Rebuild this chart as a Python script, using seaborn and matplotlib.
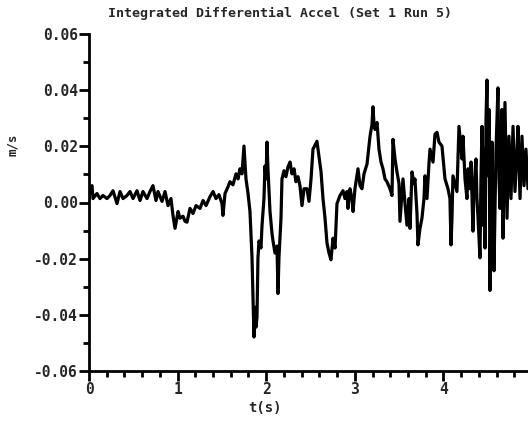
import numpy as np
import pandas as pd
import matplotlib
matplotlib.use("Agg")
import matplotlib.pyplot as plt
import seaborn as sns
from matplotlib.ticker import MultipleLocator

# time (s)
t = [0.000, 0.011, 0.034, 0.045, 0.090, 0.124, 0.158, 0.203, 0.237, 0.271,
     0.316, 0.350, 0.384, 0.429, 0.463, 0.497, 0.542, 0.576, 0.609, 0.655,
     0.688, 0.722, 0.756, 0.779, 0.824, 0.858, 0.892, 0.925, 0.948, 0.971,
     1.005, 1.027, 1.061, 1.084, 1.106, 1.140, 1.174, 1.208, 1.253, 1.287,
     1.321, 1.366, 1.400, 1.433, 1.467, 1.501, 1.512, 1.535, 1.569, 1.591,
     1.625, 1.659, 1.682, 1.704, 1.727, 1.749, 1.772, 1.795, 1.817, 1.840,
     1.851, 1.862, 1.874, 1.885, 1.896, 1.907, 1.919, 1.941, 1.953, 1.975,
     1.986, 1.998, 2.009, 2.020, 2.043, 2.065, 2.077, 2.099, 2.122, 2.133,
     2.144, 2.167, 2.178, 2.201, 2.223, 2.246, 2.269, 2.291, 2.314, 2.336,
     2.359, 2.381, 2.404, 2.427, 2.460, 2.483, 2.506, 2.528, 2.551, 2.573,
     2.596, 2.619, 2.641, 2.664, 2.686, 2.709, 2.731, 2.754, 2.777, 2.799,
     2.833, 2.867, 2.889, 2.912, 2.923, 2.946, 2.968, 2.980, 3.002, 3.036,
     3.059, 3.081, 3.104, 3.138, 3.172, 3.194, 3.205, 3.217, 3.228, 3.251,
     3.273, 3.296, 3.318, 3.341, 3.363, 3.397, 3.420, 3.431, 3.454, 3.476,
     3.499, 3.510, 3.533, 3.544, 3.567, 3.589, 3.612, 3.623, 3.646, 3.668,
     3.679, 3.702, 3.713, 3.736, 3.758, 3.781, 3.792, 3.815, 3.837, 3.849,
     3.883, 3.905, 3.928, 3.950, 3.984, 4.018, 4.052, 4.074, 4.086, 4.097,
     4.108, 4.131, 4.153, 4.176, 4.199, 4.210, 4.221, 4.244, 4.266, 4.278,
     4.300, 4.312, 4.334, 4.345, 4.368, 4.379, 4.391, 4.413, 4.424, 4.436,
     4.447, 4.458, 4.470, 4.481, 4.492, 4.503, 4.515, 4.526, 4.537, 4.549,
     4.560, 4.571, 4.594, 4.616, 4.628, 4.639, 4.661, 4.673, 4.695, 4.718,
     4.740, 4.763, 4.786, 4.808, 4.831, 4.842, 4.865, 4.887, 4.910, 4.932,
     4.955]

# integrated differential acceleration (m/s)
v = [0.0014, 0.0049, 0.0060, 0.0014, 0.0032, 0.0014, 0.0025, 0.0014, 0.0025, 0.0042,
     -0.0004, 0.0039, 0.0014, 0.0025, 0.0039, 0.0014, 0.0042, 0.0007, 0.0039, 0.0014,
     0.0039, 0.0060, 0.0007, 0.0039, 0.0004, 0.0039, -0.0011, 0.0014, -0.0046, -0.0092,
     -0.0032, -0.0056, -0.0049, -0.0067, -0.0070, -0.0021, -0.0039, -0.0011, -0.0021, 0.0007,
     -0.0011, 0.0021, 0.0039, 0.0014, 0.0028, -0.0004, -0.0046, 0.0032, 0.0056, 0.0074,
     0.0063, 0.0102, 0.0084, 0.0120, 0.0102, 0.0201, 0.0084, 0.0032, -0.0032, -0.0197,
     -0.0338, -0.0479, -0.0373, -0.0444, -0.0408, -0.0197, -0.0137, -0.0162, -0.0081, 0.0014,
     0.0130, 0.0084, 0.0215, 0.0120, -0.0032, -0.0109, -0.0137, -0.0180, -0.0155, -0.0324,
     -0.0197, -0.0056, 0.0084, 0.0113, 0.0092, 0.0127, 0.0144, 0.0102, 0.0120, 0.0074,
     0.0092, 0.0060, -0.0011, 0.0049, 0.0049, 0.0004, 0.0084, 0.0190, 0.0204, 0.0218,
     0.0162, 0.0109, 0.0014, -0.0056, -0.0144, -0.0180, -0.0204, -0.0127, -0.0162, -0.0004,
     0.0025, 0.0042, 0.0014, 0.0039, -0.0021, 0.0049, 0.0014, -0.0032, 0.0049, 0.0120,
     0.0060, 0.0049, 0.0102, 0.0137, 0.0236, 0.0278, 0.0341, 0.0278, 0.0260, 0.0285,
     0.0190, 0.0144, 0.0120, 0.0084, 0.0074, 0.0049, 0.0025, 0.0225, 0.0155, 0.0109,
     0.0067, -0.0067, 0.0032, 0.0084, -0.0004, -0.0081, 0.0014, -0.0092, 0.0109, 0.0067,
     0.0084, -0.0039, -0.0151, -0.0092, -0.0056, 0.0014, 0.0095, 0.0014, 0.0137, 0.0190,
     0.0144, 0.0243, 0.0250, 0.0215, 0.0201, 0.0084, 0.0049, 0.0014, -0.0151, -0.0056,
     0.0095, 0.0067, 0.0039, 0.0271, 0.0190, 0.0155, 0.0236, 0.0084, 0.0014, 0.0120,
     0.0049, 0.0144, -0.0102, 0.0049, 0.0155, 0.0014, -0.0056, -0.0197, 0.0084, 0.0271,
     -0.0081, 0.0190, -0.0162, 0.0296, 0.0436, 0.0095, 0.0331, -0.0313, 0.0014, 0.0215,
     -0.0092, -0.0243, 0.0190, 0.0408, 0.0084, -0.0021, 0.0331, -0.0127, 0.0356, -0.0056,
     0.0236, 0.0014, 0.0271, 0.0039, 0.0190, 0.0271, 0.0014, 0.0236, 0.0060, 0.0190,
     0.0049]

y_ticks = [-0.06, -0.04, -0.02, 0.00, 0.02, 0.04, 0.06]
y_tick_labels = ["-0.06", "-0.04", "-0.02", "0.00", "0.02", "0.04", "0.06"]
x_ticks = [0, 1, 2, 3, 4]
x_tick_labels = ["0", "1", "2", "3", "4"]

df = pd.DataFrame({"t": t, "v": v})

sns.set_theme(style="white")
plt.rcParams["font.family"] = ["DejaVu Sans Mono", "DejaVu Sans"]
plt.rcParams["font.weight"] = "bold"

W, H = 528, 434
fig = plt.figure(figsize=(W / 100, H / 100), dpi=100)
ax = fig.add_axes([89 / W, 1 - 371 / H, (W - 89) / W, (371 - 34) / H])

sns.lineplot(data=df, x="t", y="v", ax=ax, color="black", linewidth=2.3,
             estimator=None, sort=False)

ax.set_xlim(0, 4.955)
ax.set_ylim(-0.06, 0.06)
ax.set_xticks(x_ticks)
ax.set_xticklabels(x_tick_labels)
ax.set_yticks(y_ticks)
ax.set_yticklabels(y_tick_labels)
ax.xaxis.set_minor_locator(MultipleLocator(0.2))
ax.yaxis.set_minor_locator(MultipleLocator(0.01))

for side in ("top", "right"):
    ax.spines[side].set_visible(False)
for side in ("left", "bottom"):
    ax.spines[side].set_color("black")
    ax.spines[side].set_linewidth(2.0)

ax.tick_params(axis="both", which="major", direction="out", length=7,
               width=2, color="black", labelsize=10.5, pad=1)
ax.tick_params(axis="both", which="minor", direction="out", length=4.5,
               width=2, color="black")
ax.tick_params(axis="x", which="both", bottom=True)
ax.tick_params(axis="y", which="both", left=True)
for lab in ax.get_xticklabels() + ax.get_yticklabels():
    lab.set_fontweight("bold")

ax.set_xlabel("")
ax.set_ylabel("")
fig.text(265 / W, 1 - 408 / H, "t(s)", ha="center", va="center",
         fontsize=10, fontweight="bold")
fig.text(12 / W, 1 - 145 / H, "m/s", ha="center", va="center",
         rotation=90, fontsize=9, fontweight="bold")
fig.text(280 / W, 1 - 13 / H, "Integrated Differential Accel (Set 1 Run 5)",
         ha="center", va="center", fontsize=9.5, fontweight="bold")

fig.savefig("out.png", dpi=100, facecolor="white")
